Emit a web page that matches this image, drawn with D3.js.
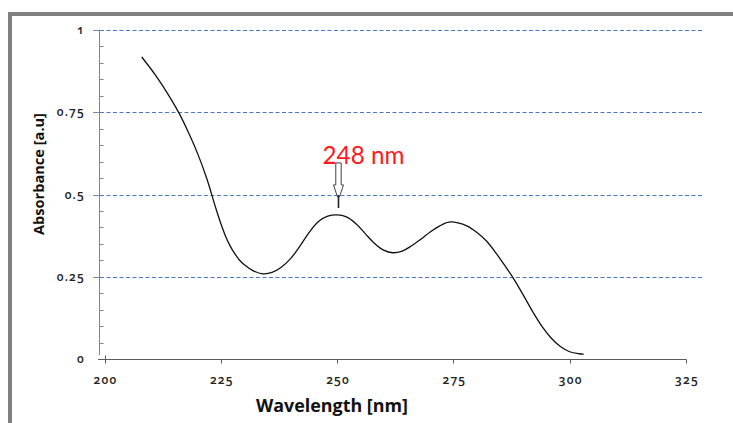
<!DOCTYPE html>
<html><head><meta charset="utf-8">
<script src="https://cdn.jsdelivr.net/npm/d3@7"></script>
<style>
html,body{margin:0;padding:0;background:#fff;}
svg{display:block;}
.tk{font-family:"Open Sans",sans-serif;font-size:12px;font-weight:600;fill:#222;font-variant-numeric:oldstyle-nums;letter-spacing:1.2px;}
</style></head>
<body>
<svg id="c" width="733" height="423"></svg>
<script>
// ---- data ----
const wavelengths = [208,211,214,216,218,220,222,224,225,226,227,228,229,230,232,234,236,238,240,242,244,246,248,250,252,254,256,258,260,262,264,266,268,270,272,274,276,278,280,282,284,286,288,290,292,294,296,298,300,302,303];
const absorbance  = [0.918,0.862,0.797,0.748,0.690,0.625,0.548,0.455,0.412,0.374,0.344,0.320,0.301,0.287,0.268,0.259,0.263,0.279,0.305,0.343,0.385,0.418,0.434,0.438,0.432,0.412,0.382,0.352,0.331,0.323,0.328,0.344,0.364,0.386,0.404,0.416,0.414,0.404,0.385,0.360,0.325,0.285,0.243,0.195,0.145,0.100,0.064,0.038,0.022,0.016,0.015];
const xTicks = [200,225,250,275,300,325];
const yTicks = [0,0.25,0.5,0.75,1];
const yTickLabels = ["0","0.25","0.5","0.75","1"];
const peakLabel = "248 nm";
const peakX = 250.3;
const arrowTop = 0.596, arrowTip = 0.459;
const xTitle = "Wavelength [nm]";
const yTitle = "Absorbance [a.u]";

const svg = d3.select("#c");
const x = d3.scaleLinear().domain([200,325]).range([104.5,686]);
const y = d3.scaleLinear().domain([0,1]).range([359,30]);

// frame
svg.append("rect").attr("x",10).attr("y",14).attr("width",760).attr("height",450)
  .attr("fill","none").attr("stroke","#808080").attr("stroke-width",4);

// grid lines
svg.append("g").selectAll("line").data(yTicks.filter(d=>d>0)).join("line")
  .attr("x1",100).attr("x2",704).attr("y1",d=>Math.round(y(d))+0.5).attr("y2",d=>Math.round(y(d))+0.5)
  .attr("stroke","#4a76c0").attr("stroke-width",1).attr("stroke-dasharray","4,2.5");

// y axis
const yMinor = d3.range(0,1.0001,0.05);
svg.append("line").attr("x1",99.5).attr("x2",99.5).attr("y1",y(1)).attr("y2",355).attr("stroke","#868686").attr("stroke-width",1);
svg.append("g").selectAll("line").data(yMinor.filter(d=>Math.round(d*100)%25!==0)).join("line")
  .attr("x1",99.5).attr("x2",103.5).attr("y1",d=>Math.round(y(d))+0.5).attr("y2",d=>Math.round(y(d))+0.5)
  .attr("stroke","#868686");
svg.append("g").selectAll("line").data(yTicks.filter(d=>d>0)).join("line")
  .attr("x1",93).attr("x2",100).attr("y1",d=>Math.round(y(d))+0.5).attr("y2",d=>Math.round(y(d))+0.5)
  .attr("stroke","#868686");
svg.append("g").selectAll("text").data(yTicks).join("text").attr("class","tk")
  .attr("x",85).attr("y",d=>y(d)+4).attr("text-anchor","end").text((d,i)=>yTickLabels[i]);

// x axis
const xa = svg.append("g").attr("transform","translate(0,359.5)");
xa.append("line").attr("x1",98).attr("x2",x(325)+0.5).attr("stroke","#5a5a5a");
xa.selectAll("line.t").data(xTicks).join("line").attr("class","t")
  .attr("x1",d=>Math.round(x(d))+0.5).attr("x2",d=>Math.round(x(d))+0.5)
  .attr("y1",(d,i)=>i===0?-4:0).attr("y2",4).attr("stroke","#5a5a5a");
xa.selectAll("text").data(xTicks).join("text").attr("class","tk")
  .attr("x",d=>x(d)+1).attr("y",24).attr("text-anchor","middle").text(d=>d);

// titles
function fitText(sel, target){
  const w = sel.node().getComputedTextLength();
  const fs = parseFloat(sel.attr("font-size"));
  sel.attr("font-size", fs*target/w);
}
const xt = svg.append("text").attr("x",332).attr("y",412).attr("text-anchor","middle")
  .attr("font-family","Open Sans, sans-serif").attr("font-weight","bold").attr("font-size",14).attr("fill","#111").text(xTitle);
fitText(xt,152);
const yt = svg.append("text").attr("transform","translate(44,174) rotate(-90)").attr("text-anchor","middle")
  .attr("font-family","Open Sans, sans-serif").attr("font-weight","bold").attr("font-size",14).attr("fill","#111").text(yTitle);
fitText(yt,122);

// curve
const pts = wavelengths.map((w,i)=>[w,absorbance[i]]);
svg.append("path").datum(pts)
  .attr("d",d3.line().x(d=>x(d[0])).y(d=>y(d[1])).curve(d3.curveCatmullRom.alpha(0.5)))
  .attr("fill","none").attr("stroke","#111").attr("stroke-width",1.3);

// annotation arrow
const ax = x(peakX), ay0 = y(arrowTop), ay1 = y(arrowTip);
const headY = ay0 + 22, headEnd = ay0 + 34;
svg.append("path")
  .attr("d",`M${ax-2.7},${ay0} L${ax+2.7},${ay0} L${ax+2.7},${headY} L${ax+5},${headY} L${ax+1},${headEnd} L${ax-1},${headEnd} L${ax-5},${headY} L${ax-2.7},${headY} Z`)
  .attr("fill","#fff").attr("stroke","#404040").attr("stroke-width",1);
svg.append("line").attr("x1",ax).attr("x2",ax).attr("y1",headEnd-2).attr("y2",ay1)
  .attr("stroke","#222").attr("stroke-width",1.6);
const pt = svg.append("text").attr("x",ax-16).attr("y",ay0+1).attr("text-anchor","start")
  .attr("font-family","Lato, sans-serif").attr("font-size",18).attr("fill","#ff1a1a").text(peakLabel);
fitText(pt,82);
</script>
</body></html>
